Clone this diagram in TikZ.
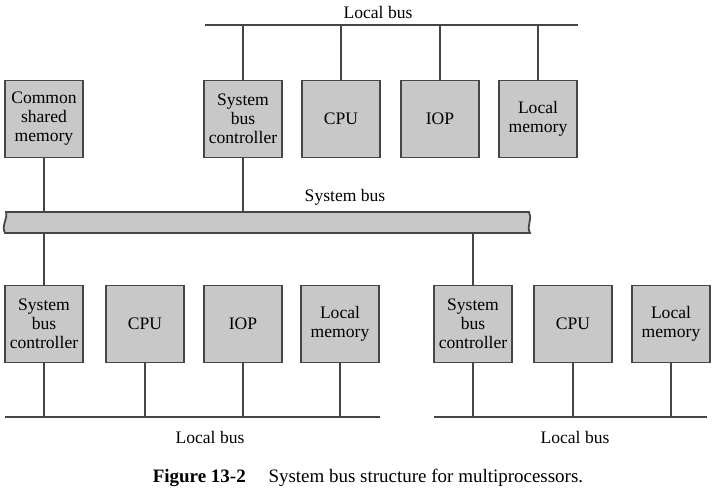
\documentclass[tikz,border=0pt]{standalone}
\usepackage{fontspec}
\setmainfont{Liberation Serif}
\usetikzlibrary{positioning,calc}
\definecolor{boxGray}{RGB}{200,200,200}
\definecolor{lineGray}{RGB}{70,70,70}

\begin{document}
\begin{tikzpicture}[x=0.02cm,y=-0.02cm,
                unit/.style={draw=lineGray,line width=1pt,fill=boxGray,
                             minimum width=1.56cm,minimum height=1.54cm,
                             inner sep=1pt,align=center,
                             font=\fontsize{10}{10.8}\selectfont},
                wire/.style={draw=lineGray,line width=1pt},
                buslabel/.style={font=\fontsize{10}{12}\selectfont}
            ]
                \useasboundingbox (0,0) rectangle (716,494);

                % top local bus
                \coordinate (tbL) at (205,25);
                \coordinate (tbR) at (578,25);
                \draw[wire] (tbL) -- (tbR);
                \node[buslabel] (tbLabel) at (378,12) {Local bus};

                \node[unit] (csm)  at (44,119)  {Common\\shared\\memory};
                \node[unit] (tsbc) at (243,119) {System\\bus\\controller};
                \node[unit] (tcpu) at (341,119) {CPU};
                \node[unit] (tiop) at (440,119) {IOP};
                \node[unit] (tmem) at (538,119) {Local\\memory};

                \foreach \n in {tsbc,tcpu,tiop,tmem}
                    \draw[wire] (\n.north) -- (\n.north |- tbL);

                % system bus
                \coordinate (sbTop) at (0,212);
                \coordinate (sbBot) at (0,233);
                \filldraw[fill=boxGray,draw=none] (6,212) -- (529,212)
                    .. controls (533,218) and (526,226) .. (530,233)
                    -- (5,233) .. controls (1,226) and (8,218) .. cycle;
                \draw[wire] (5,233) .. controls (1,226) and (8,218) .. (6,212)
                    -- (529,212) .. controls (533,218) and (526,226) .. (530,233)
                    -- cycle;
                \node[buslabel] (sbLabel) at (345,197) {System bus};

                \draw[wire] (csm.south) -- (csm.south |- sbTop);
                \draw[wire] (tsbc.south) -- (tsbc.south |- sbTop);

                % lower left processor
                \node[unit] (lsbc) at (44,324)  {System\\bus\\controller};
                \node[unit] (lcpu) at (145,324) {CPU};
                \node[unit] (liop) at (243,324) {IOP};
                \node[unit] (lmem) at (340,324) {Local\\memory};

                % lower right processor
                \node[unit] (rsbc) at (473,324) {System\\bus\\controller};
                \node[unit] (rcpu) at (573,324) {CPU};
                \node[unit] (rmem) at (671,324) {Local\\memory};

                \draw[wire] (lsbc.north) -- (lsbc.north |- sbBot);
                \draw[wire] (rsbc.north) -- (rsbc.north |- sbBot);

                % lower local buses
                \coordinate (lbL) at (5,417);
                \coordinate (lbR) at (380,417);
                \coordinate (rbL) at (434,417);
                \coordinate (rbR) at (707,417);
                \draw[wire] (lbL) -- (lbR);
                \draw[wire] (rbL) -- (rbR);
                \foreach \n in {lsbc,lcpu,liop,lmem,rsbc,rcpu,rmem}
                    \draw[wire] (\n.south) -- (\n.south |- lbL);
                \node[buslabel] (lbLabel) at (210,437) {Local bus};
                \node[buslabel] (rbLabel) at (575,437) {Local bus};

                \node[font=\fontsize{10.8}{12}\selectfont] (caption) at (368,478)
                    {\textbf{Figure 13-2}\hspace{1.2em}System bus structure for multiprocessors.};
            \end{tikzpicture}
\end{document}
